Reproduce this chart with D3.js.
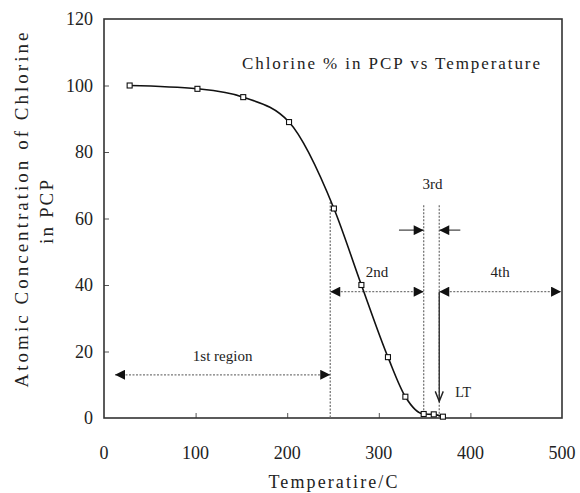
<!DOCTYPE html>
<html>
<head>
<meta charset="utf-8">
<script src="https://cdn.jsdelivr.net/npm/d3@7/dist/d3.min.js"></script>
<style>
  html, body { margin: 0; padding: 0; background: #fff; }
  svg { display: block; }
</style>
</head>
<body>
<svg id="chart" width="580" height="493"></svg>
<script>
// Measured chlorine content of PCP at each temperature
const temperature = [28, 102, 152, 202, 251, 281, 310, 329, 349, 360, 370];
const chlorine    = [100, 99, 96.5, 89, 63, 40, 18.3, 6.4, 1.2, 1.1, 0.4];

const xTicks = [0, 100, 200, 300, 400, 500];
const yTicks = [0, 20, 40, 60, 80, 100, 120];

// Region boundaries (temperature) and the region arrows
const boundaries = [
  { t: 247, top: 65 },
  { t: 349, top: 64 },
  { t: 366, top: 64 }
];
const regionArrows = [
  { label: "1st region", from: 12, to: 247, level: 13, labelLevel: 17 },
  { label: "2nd", from: 247, to: 349, level: 38, labelLevel: 42.5 },
  { label: "4th", from: 366, to: 499, level: 38, labelLevel: 42.5 }
];
const thirdRegion = { label: "3rd", left: 322, right: 389, inner: [349, 366], level: 56.5, labelLevel: 69 };
const ltMarker = { label: "LT", t: 366, fromLevel: 38, toLevel: 5 };

const svg = d3.select("#chart");
const m = { left: 104, right: 562, top: 19, bottom: 418 };

const x = d3.scaleLinear().domain([0, 500]).range([m.left, m.right]);
const y = d3.scaleLinear().domain([0, 120]).range([m.bottom, m.top]);

const numFont = "'Liberation Serif', 'Times New Roman', serif";
const textFont = "'Liberation Serif', 'Times New Roman', serif";

// Arrowhead markers
const defs = svg.append("defs");
defs.append("marker")
  .attr("id", "head")
  .attr("viewBox", "0 0 10 10")
  .attr("refX", 10).attr("refY", 5)
  .attr("markerUnits", "userSpaceOnUse")
  .attr("markerWidth", 11).attr("markerHeight", 10)
  .attr("orient", "auto-start-reverse")
  .append("path")
  .attr("d", "M0,0 L10,5 L0,10 Z")
  .attr("fill", "#111");
defs.append("marker")
  .attr("id", "vhead")
  .attr("viewBox", "0 0 10 10")
  .attr("refX", 10).attr("refY", 5)
  .attr("markerUnits", "userSpaceOnUse")
  .attr("markerWidth", 14).attr("markerHeight", 10)
  .attr("orient", "auto")
  .append("path")
  .attr("d", "M0,1 L10,5 L0,9")
  .attr("fill", "none")
  .attr("stroke", "#222")
  .attr("stroke-width", 1.4);

// Axes with inward ticks
const xAxis = d3.axisBottom(x).tickValues(xTicks.slice(1, -1)).tickSize(-5).tickFormat("");
const yAxis = d3.axisLeft(y).tickValues(yTicks.slice(1, -1)).tickSize(-5).tickFormat("");

svg.append("g").attr("transform", `translate(0,${m.bottom})`).call(xAxis)
  .call(g => g.select(".domain").remove())
  .selectAll("line").attr("stroke", "#555").attr("stroke-width", 1);
svg.append("g").attr("transform", `translate(${m.left},0)`).call(yAxis)
  .call(g => g.select(".domain").remove())
  .selectAll("line").attr("stroke", "#555").attr("stroke-width", 1);

// Frame
svg.append("rect")
  .attr("x", m.left).attr("y", m.top)
  .attr("width", m.right - m.left).attr("height", m.bottom - m.top)
  .attr("fill", "none").attr("stroke", "#333").attr("stroke-width", 1.6);

// Tick labels
svg.append("g").selectAll("text").data(xTicks).join("text")
  .attr("x", d => x(d)).attr("y", 459)
  .attr("text-anchor", "middle")
  .attr("font-family", numFont).attr("font-size", 18).attr("fill", "#222")
  .text(d => d);
svg.append("g").selectAll("text").data(yTicks).join("text")
  .attr("x", 93).attr("y", d => y(d) + 6)
  .attr("text-anchor", "end")
  .attr("font-family", numFont).attr("font-size", 18).attr("fill", "#222")
  .text(d => d);

// Axis titles
svg.append("text")
  .attr("x", 333).attr("y", 488)
  .attr("text-anchor", "middle")
  .attr("font-family", textFont).attr("font-size", 18).attr("fill", "#222")
  .attr("textLength", 129).attr("lengthAdjust", "spacing")
  .text("Temperatire/C");
svg.append("text")
  .attr("transform", "translate(28,210) rotate(-90)")
  .attr("text-anchor", "middle")
  .attr("font-family", textFont).attr("font-size", 19).attr("fill", "#222")
  .attr("textLength", 355).attr("lengthAdjust", "spacing")
  .text("Atomic Concentration of Chlorine");
svg.append("text")
  .attr("transform", "translate(53,212) rotate(-90)")
  .attr("text-anchor", "middle")
  .attr("font-family", textFont).attr("font-size", 19).attr("fill", "#222")
  .attr("textLength", 64).attr("lengthAdjust", "spacing")
  .text("in PCP");

// Chart title
svg.append("text")
  .attr("x", 242).attr("y", 69)
  .attr("font-family", textFont).attr("font-size", 17).attr("fill", "#222")
  .attr("textLength", 298).attr("lengthAdjust", "spacing")
  .text("Chlorine % in PCP vs Temperature");

// Region boundaries
svg.append("g").selectAll("line").data(boundaries).join("line")
  .attr("x1", d => x(d.t)).attr("x2", d => x(d.t))
  .attr("y1", d => y(d.top)).attr("y2", m.bottom)
  .attr("stroke", "#777").attr("stroke-width", 1.3)
  .attr("stroke-dasharray", "2,1.5");

// Region arrows
svg.append("g").selectAll("line").data(regionArrows).join("line")
  .attr("x1", d => x(d.from)).attr("x2", d => x(d.to))
  .attr("y1", d => y(d.level)).attr("y2", d => y(d.level))
  .attr("stroke", "#777").attr("stroke-width", 1.3)
  .attr("stroke-dasharray", "2,1.5")
  .attr("marker-start", "url(#head)").attr("marker-end", "url(#head)");
svg.append("g").selectAll("text").data(regionArrows).join("text")
  .attr("x", d => (x(d.from) + x(d.to)) / 2).attr("y", d => y(d.labelLevel))
  .attr("text-anchor", "middle")
  .attr("font-family", numFont).attr("font-size", 15).attr("fill", "#222")
  .text(d => d.label);

// Third region: two inward arrows
const tr = thirdRegion;
svg.append("line")
  .attr("x1", x(tr.left)).attr("x2", x(tr.inner[0]))
  .attr("y1", y(tr.level)).attr("y2", y(tr.level))
  .attr("stroke", "#666").attr("stroke-width", 1.5)
  .attr("marker-end", "url(#head)");
svg.append("line")
  .attr("x1", x(tr.right)).attr("x2", x(tr.inner[1]))
  .attr("y1", y(tr.level)).attr("y2", y(tr.level))
  .attr("stroke", "#666").attr("stroke-width", 1.5)
  .attr("marker-end", "url(#head)");
svg.append("text")
  .attr("x", (x(tr.inner[0]) + x(tr.inner[1])) / 2 + 1).attr("y", y(tr.labelLevel))
  .attr("text-anchor", "middle")
  .attr("font-family", numFont).attr("font-size", 15).attr("fill", "#222")
  .text(tr.label);

// LT marker
svg.append("line")
  .attr("x1", x(ltMarker.t)).attr("x2", x(ltMarker.t))
  .attr("y1", y(ltMarker.fromLevel)).attr("y2", y(ltMarker.toLevel))
  .attr("stroke", "#333").attr("stroke-width", 1.4)
  .attr("marker-end", "url(#vhead)");
svg.append("text")
  .attr("x", x(ltMarker.t) + 16).attr("y", y(ltMarker.toLevel) - 4)
  .attr("font-family", numFont).attr("font-size", 14).attr("fill", "#222")
  .text(ltMarker.label);

// Data curve and markers
const pts = temperature.map((t, i) => [t, chlorine[i]]);
svg.append("path")
  .datum(pts)
  .attr("d", d3.line().x(d => x(d[0])).y(d => y(d[1])).curve(d3.curveMonotoneX))
  .attr("fill", "none").attr("stroke", "#111").attr("stroke-width", 1.6);
svg.append("g").selectAll("rect").data(pts).join("rect")
  .attr("x", d => x(d[0]) - 2.5).attr("y", d => y(d[1]) - 2.5)
  .attr("width", 5).attr("height", 5)
  .attr("fill", "#fff").attr("stroke", "#111").attr("stroke-width", 1.1);
</script>
</body>
</html>
